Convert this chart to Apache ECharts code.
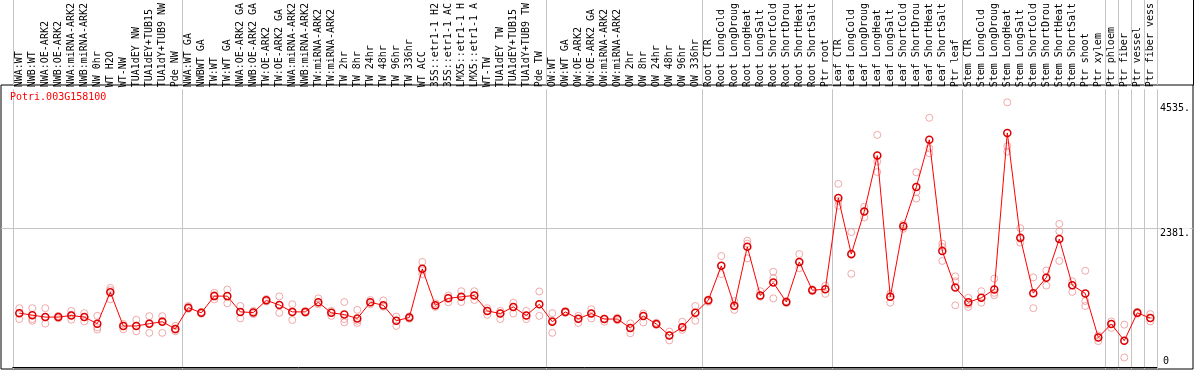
<!DOCTYPE html>
<html>
<head>
<meta charset="utf-8">
<script src="https://cdn.jsdelivr.net/npm/echarts@6/dist/echarts.min.js"></script>
<style>
  html, body { margin: 0; padding: 0; background: #fff; }
  #chart { width: 1194px; height: 370px; }
</style>
</head>
<body>
<div id="chart"></div>
<script>
const geneName = 'Potri.003G158100'

const categories = [
  'NWA:WT', 'NWB:WT', 'NWA:OE-ARK2', 'NWB:OE-ARK2', 'NWA:miRNA-ARK2', 'NWB:miRNA-ARK2', 'NW 0hr',
  'WT H2O', 'WT-NW', 'TUA1dEY NW', 'TUA1dEY+TUB15', 'TUA1dY+TUB9 NW', 'Pde NW',
  'NWA:WT GA', 'NWBWT GA', 'TW:WT', 'TW:WT GA', 'NWA:OE-ARK2 GA', 'NWB:OE-ARK2 GA', 'TW:OE-ARK2',
  'TW:OE-ARK2 GA', 'NWA:miRNA-ARK2', 'NWB:miRNA-ARK2', 'TW:miRNA-ARK2', 'TW:miRNA-ARK2',
  'TW 2hr', 'TW 8hr', 'TW 24hr', 'TW 48hr', 'TW 96hr', 'TW 336hr', 'WT ACC',
  '35S::etr1-1 H2', '35S::etr1-1 AC', 'LMX5::etr1-1 H', 'LMX5::etr1-1 A', 'WT-TW', 'TUA1dEY TW',
  'TUA1dEY+TUB15', 'TUA1dY+TUB9 TW', 'Pde TW',
  'OW:WT', 'OW:WT GA', 'OW:OE-ARK2', 'OW:OE-ARK2 GA', 'OW:miRNA-ARK2', 'OW:miRNA-ARK2',
  'OW 2hr', 'OW 8hr', 'OW 24hr', 'OW 48hr', 'OW 96hr', 'OW 336hr',
  'Root CTR', 'Root LongCold', 'Root LongDroug', 'Root LongHeat', 'Root LongSalt',
  'Root ShortCold', 'Root ShortDrou', 'Root ShortHeat', 'Root ShortSalt', 'Ptr root',
  'Leaf CTR', 'Leaf LongCold', 'Leaf LongDroug', 'Leaf LongHeat', 'Leaf LongSalt',
  'Leaf ShortCold', 'Leaf ShortDrou', 'Leaf ShortHeat', 'Leaf ShortSalt', 'Ptr leaf',
  'Stem CTR', 'Stem LongCold', 'Stem LongDroug', 'Stem LongHeat', 'Stem LongSalt',
  'Stem ShortCold', 'Stem ShortDrou', 'Stem ShortHeat', 'Stem ShortSalt', 'Ptr shoot',
  'Ptr xylem', 'Ptr phloem', 'Ptr fiber', 'Ptr vessel', 'Ptr fiber vess'
]

// index of the first category of each sample group (last one = end)
const groupStarts = [0, 13, 41, 53, 63, 73, 84, 85, 86, 87, 88]

const meanValues = [
  937, 902, 868, 868, 896, 868, 753, 1303, 713, 713,
  753, 787, 662, 1033, 942, 1234, 1234, 959, 947, 1160,
  1080, 959, 959, 1126, 942, 913, 844, 1126, 1074, 804,
  861, 1710, 1074, 1195, 1222, 1246, 976, 930, 1045, 896,
  1092, 787, 959, 839, 930, 834, 834, 679, 885, 748,
  547, 689, 942, 1160, 1762, 1067, 2094, 1246, 1470, 1131,
  1831, 1337, 1355, 2948, 1968, 2713, 3687, 1222, 2455, 3137,
  3962, 2020, 1384, 1126, 1205, 1349, 4083, 2254, 1286, 1556,
  2231, 1423, 1281, 512, 748, 456, 942, 851
]

const rep1 = [
  1023, 1023, 1023, 890, 976, 937, 890, 1377, 748, 822,
  885, 885, 713, 1062, 959, 1291, 1349, 1062, 976, 1183,
  1229, 1092, 976, 1195, 976, 1131, 994, 1166, 1160, 878,
  882, 1831, 1109, 1246, 1320, 1320, 1023, 976, 1119, 976,
  1315, 937, 976, 890, 1006, 840, 856, 758, 930, 770,
  615, 787, 1062, 1178, 1934, 1148, 2202, 1320, 1659, 1148,
  1968, 1355, 1418, 3194, 2352, 2793, 4048, 1274, 2489, 3395,
  4346, 2150, 1578, 1205, 1320, 1539, 4616, 2420, 1561, 1681,
  2494, 1492, 1676, 547, 792, 736, 959, 920
]

const rep2 = [
  834, 804, 753, 847, 822, 792, 650, 1337, 655, 621,
  593, 593, 621, 1011, 925, 1178, 1109, 844, 920, 1140,
  942, 817, 942, 1092, 890, 775, 765, 1126, 1050, 713,
  839, 1618, 1045, 1126, 1131, 1166, 908, 834, 930, 834,
  890, 593, 942, 765, 844, 787, 813, 586, 775, 731,
  461, 645, 804, 1136, 1618, 994, 1893, 1222, 1195, 1114,
  1721, 1320, 1274, 2811, 1624, 2609, 3400, 1119, 2408, 2936,
  3727, 1848, 1074, 1045, 1119, 1251, 3756, 2168, 1023, 1418,
  1848, 1308, 1062, 449, 679, 163, 925, 792
]

const rep3 = [
  942, 834, 868, 868, 908, 868, 689, 1178, 713, 713,
  765, 804, 650, 1033, 942, 1251, 1234, 959, 947, 1160,
  1080, 959, 959, 1126, 942, 834, 804, 1092, 1074, 804,
  861, 1681, 1074, 1205, 1222, 1246, 976, 930, 1045, 896,
  1092, 804, 959, 839, 930, 834, 834, 679, 885, 748,
  547, 689, 942, 1160, 1762, 1067, 2150, 1246, 1549, 1131,
  1831, 1337, 1355, 2897, 1951, 2713, 3584, 1222, 2455, 3051,
  3813, 2094, 1492, 1092, 1205, 1291, 3852, 2236, 1286, 1556,
  2364, 1423, 1148, 512, 748, 456, 942, 851
]

const upperTicks = [2381, 4535]
const lowerTicks = [0]

const yMin = -38
const yMax = 4844
const font = 'DejaVu Sans Mono'

const isGroupEdge = (idx) => groupStarts.indexOf(idx) !== -1

const repSeries = [rep1, rep2, rep3].map((values) => ({
  type: 'scatter',
  xAxisIndex: 0,
  yAxisIndex: 0,
  data: values,
  symbol: 'circle',
  symbolSize: 7,
  itemStyle: { color: 'rgba(0,0,0,0)', borderColor: '#ec9494', borderWidth: 1 },
  z: 3,
  silent: true
}))

const chart = echarts.init(document.getElementById('chart'), null, { renderer: 'canvas' })

chart.setOption({
  animation: false,
  backgroundColor: '#fff',
  title: {
    text: geneName,
    left: 10,
    top: 92,
    padding: 0,
    textStyle: { color: '#ff0000', fontFamily: font, fontSize: 10, fontWeight: 'normal' }
  },
  grid: [
    { left: 12.8, width: 1144, top: 85, bottom: 1 },
    { left: 12.8, width: 1144, top: 0, height: 85 },
    { left: 1, right: 1, top: 85, bottom: 1, show: true, borderColor: '#000', borderWidth: 1, backgroundColor: 'rgba(0,0,0,0)' }
  ],
  xAxis: [
    {
      type: 'category',
      gridIndex: 0,
      data: categories,
      position: 'top',
      boundaryGap: true,
      axisLine: { show: true, lineStyle: { color: '#000', width: 1 } },
      axisTick: { show: false },
      axisLabel: {
        interval: 0,
        rotate: 90,
        margin: 2,
        color: '#000',
        fontFamily: font,
        fontSize: 10
      },
      splitLine: {
        show: true,
        interval: (idx) => isGroupEdge(idx),
        lineStyle: { color: '#c4c4c4', width: 1 }
      }
    },
    {
      type: 'category',
      gridIndex: 1,
      data: categories,
      boundaryGap: true,
      axisLine: { show: false },
      axisTick: { show: false },
      axisLabel: { show: false },
      splitLine: {
        show: true,
        interval: (idx) => isGroupEdge(idx),
        lineStyle: { color: '#c4c4c4', width: 1 }
      }
    },
    { type: 'value', gridIndex: 2, show: false, min: 0, max: 1 }
  ],
  yAxis: [
    { type: 'value', gridIndex: 0, min: yMin, max: yMax, show: false },
    {
      type: 'value',
      gridIndex: 1,
      position: 'right',
      offset: 36.2,
      axisLine: { show: true, lineStyle: { color: '#000', width: 1 } },
      axisTick: { show: false },
      axisLabel: { show: false },
      splitLine: { show: false }
    },
    {
      type: 'value',
      gridIndex: 2,
      min: yMin,
      max: yMax,
      position: 'right',
      axisLine: { show: false },
      axisTick: { show: false, customValues: [2381] },
      splitLine: { show: true, lineStyle: { color: '#c4c4c4', width: 1 } },
      axisLabel: {
        inside: true,
        margin: 3,
        customValues: upperTicks,
        formatter: (v) => String(v) + '.',
        verticalAlign: 'top',
        color: '#000',
        fontFamily: font,
        fontSize: 10,
        backgroundColor: '#fff'
      }
    },
    {
      type: 'value',
      gridIndex: 2,
      min: yMin,
      max: yMax,
      position: 'right',
      axisLine: { show: false },
      axisTick: { show: false, customValues: lowerTicks },
      splitLine: { show: false },
      axisLabel: {
        inside: true,
        margin: 24,
        customValues: lowerTicks,
        formatter: (v) => String(v),
        verticalAlign: 'bottom',
        color: '#000',
        fontFamily: font,
        fontSize: 10
      }
    }
  ],
  series: [
    ...repSeries,
    {
      type: 'line',
      xAxisIndex: 0,
      yAxisIndex: 0,
      data: meanValues,
      symbol: 'circle',
      symbolSize: 7,
      showAllSymbol: true,
      lineStyle: { color: '#ff0000', width: 1 },
      itemStyle: { color: 'rgba(0,0,0,0)', borderColor: '#dd0000', borderWidth: 1.5 },
      z: 4,
      silent: true
    }
  ]
})
</script>
</body>
</html>
